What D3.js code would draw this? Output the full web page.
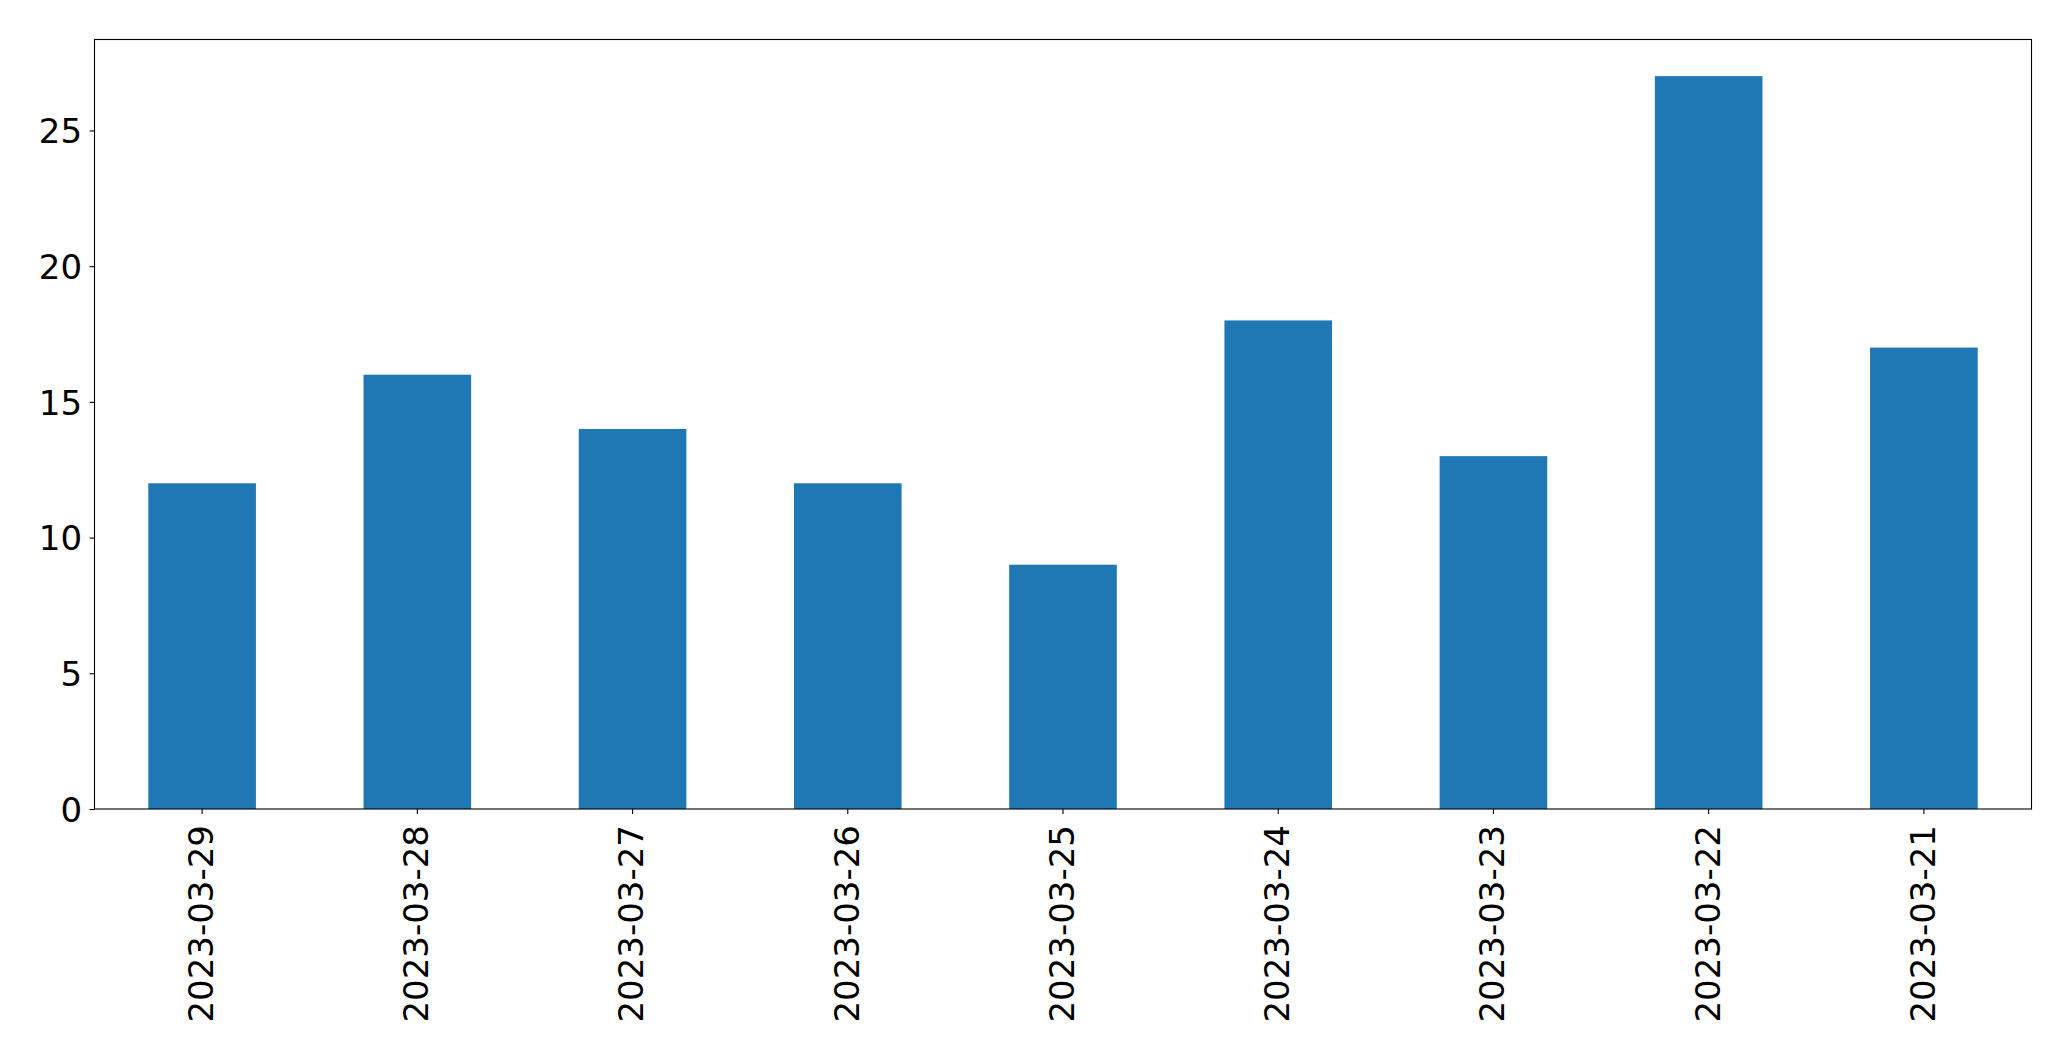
<!DOCTYPE html>
<html>
<head>
<meta charset="utf-8">
<script src="https://cdn.jsdelivr.net/npm/d3@7"></script>
<style>
  html, body { margin: 0; padding: 0; background: #fff; }
  svg { display: block; }
  text { font-family: "DejaVu Sans", sans-serif; fill: #000; }
</style>
</head>
<body>
<svg id="chart" width="2071" height="1061"></svg>
<script>
const categories = ["2023-03-29", "2023-03-28", "2023-03-27", "2023-03-26", "2023-03-25", "2023-03-24", "2023-03-23", "2023-03-22", "2023-03-21"];
const values = [12, 16, 14, 12, 9, 18, 13, 27, 17];
const yTicks = [0, 5, 10, 15, 20, 25];

const W = 2071, H = 1061;
const margin = { left: 94.5, right: 2071 - 2031.5, top: 39.5, bottom: 1061 - 809 };
const fontPx = 34;
const svg = d3.select("#chart");

const x = d3.scaleBand()
  .domain(categories)
  .range([margin.left, W - margin.right])
  .paddingInner(0.5)
  .paddingOuter(0.25);

const yMax = d3.max(values) * 1.05;
const y = d3.scaleLinear()
  .domain([0, yMax])
  .range([H - margin.bottom, margin.top]);

// bars
svg.append("g")
  .selectAll("rect")
  .data(values)
  .join("rect")
  .attr("x", (d, i) => x(categories[i]))
  .attr("width", x.bandwidth())
  .attr("y", d => y(d))
  .attr("height", d => y(0) - y(d))
  .attr("fill", "#1f77b4");

// axes
const xAxis = d3.axisBottom(x).tickSizeOuter(0).tickSize(4.9).tickPadding(4.9);
const gx = svg.append("g")
  .attr("transform", `translate(0,${H - margin.bottom})`)
  .call(xAxis);
gx.select(".domain").remove();
gx.selectAll(".tick line").attr("stroke", "#000").attr("stroke-width", 1.1);
gx.selectAll(".tick text")
  .attr("font-size", fontPx)
  .attr("font-family", "DejaVu Sans")
  .attr("transform", "rotate(-90)")
  .attr("text-anchor", "end")
  .attr("x", -16)
  .attr("y", 0)
  .attr("dy", "0.32em");

const yAxis = d3.axisLeft(y).tickValues(yTicks).tickFormat(d3.format("d")).tickSizeOuter(0).tickSize(4.9).tickPadding(7.5);
const gy = svg.append("g")
  .attr("transform", `translate(${margin.left},0)`)
  .call(yAxis);
gy.select(".domain").remove();
gy.selectAll(".tick line").attr("stroke", "#000").attr("stroke-width", 1.1);
gy.selectAll(".tick text")
  .attr("font-size", fontPx)
  .attr("font-family", "DejaVu Sans")
  .attr("dy", "0.36em");

// frame
svg.append("rect")
  .attr("x", margin.left)
  .attr("y", margin.top)
  .attr("width", W - margin.right - margin.left)
  .attr("height", H - margin.bottom - margin.top)
  .attr("fill", "none")
  .attr("stroke", "#000")
  .attr("stroke-width", 1.1);
</script>
</body>
</html>
